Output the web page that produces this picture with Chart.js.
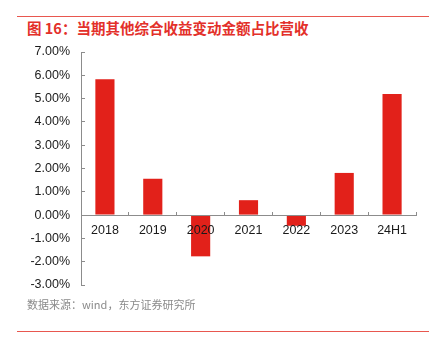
<!DOCTYPE html>
<html>
<head>
<meta charset="utf-8">
<script src="https://cdn.jsdelivr.net/npm/chart.js@4.4.1/dist/chart.umd.min.js"></script>
<style>
  html, body { margin: 0; padding: 0; background: #fff; }
  body { width: 441px; height: 347px; position: relative; overflow: hidden;
         font-family: "Liberation Sans", Arial, sans-serif; }
  .rule { position: absolute; left: 17px; width: 412px; height: 1px; background: #E8574F; }
  #title { position: absolute; left: 27px; top: 19px; font-size: 14.5px; font-weight: bold;
           color: #E3302A; font-family: "Noto Sans CJK SC", sans-serif; line-height: 18px; white-space: nowrap; }
  #source { position: absolute; left: 27px; top: 296px; font-size: 11px; color: #8a8a8a;
            font-family: "Noto Sans CJK SC", sans-serif; line-height: 16px; white-space: nowrap; }
  #wrap { position: absolute; left: 0; top: 0; width: 441px; height: 347px; }
</style>
</head>
<body>
<div class="rule" style="top:16px"></div>
<div id="title">图 16：当期其他综合收益变动金额占比营收</div>
<div id="wrap"><canvas id="chart"></canvas></div>
<div id="source">数据来源：wind，东方证券研究所</div>
<div class="rule" style="top:331px"></div>
<script>
// 当期其他综合收益变动金额占比营收 (%)
const categories = ['2018', '2019', '2020', '2021', '2022', '2023', '24H1'];
const ratioValues = [5.83, 1.56, -1.77, 0.64, -0.46, 1.81, 5.20];
const yTicks = [-3, -2, -1, 0, 1, 2, 3, 4, 5, 6, 7];

const AXIS_COLOR = '#8c8c8c';
const BAR_COLOR = '#E2211A';

new Chart(document.getElementById('chart'), {
  type: 'bar',
  data: {
    labels: categories,
    datasets: [{
      data: ratioValues,
      backgroundColor: BAR_COLOR,
      borderWidth: 0,
      categoryPercentage: 1,
      barPercentage: 0.4,
    }]
  },
  options: {
    responsive: true,
    maintainAspectRatio: false,
    animation: false,
    layout: { padding: { left: 0, top: 52, right: 25, bottom: 62 } },
    plugins: { legend: { display: false }, tooltip: { enabled: false } },
    scales: {
      x: {
        position: { y: 0 },
        grid: { display: true, drawOnChartArea: false, offset: true, tickLength: -4, color: AXIS_COLOR, z: 1 },
        border: { color: AXIS_COLOR, z: 1 },
        ticks: {
          z: 1, // labels sit on top of the negative bars
          color: '#1a1a1a', padding: 12,
          font: { size: 12.5, family: '"Liberation Sans", Arial, sans-serif' }
        },
      },
      y: {
        min: -3, max: 7,
        afterBuildTicks: (scale) => { scale.ticks = yTicks.map(v => ({ value: v })); },
        afterFit: (scale) => { scale.width = 81; },
        grid: { display: true, drawOnChartArea: false, tickLength: -4, color: AXIS_COLOR },
        border: { color: AXIS_COLOR },
        ticks: {
          color: '#1a1a1a', padding: 15,
          font: { size: 12.5, family: '"Liberation Sans", Arial, sans-serif' },
          callback: (v) => v.toFixed(2) + '%'
        },
      }
    }
  }
});
</script>
</body>
</html>
